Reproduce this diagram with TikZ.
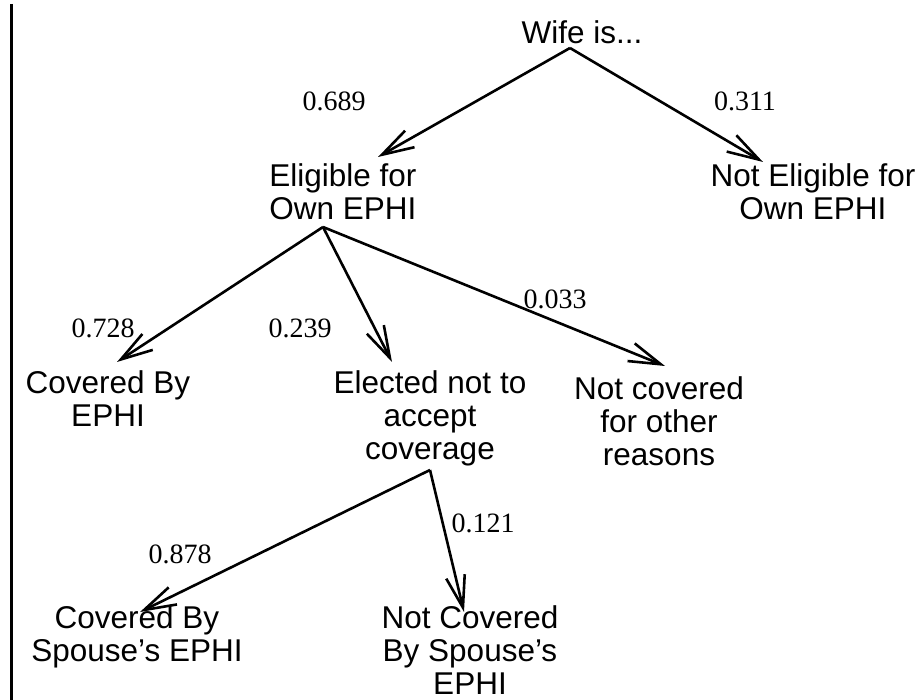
\documentclass[tikz,border=0pt]{standalone}
\usepackage{fontspec}
\setmainfont{Liberation Sans}
\newfontfamily\numfont{Liberation Serif}
\usetikzlibrary{arrows.meta}
\begin{document}
\begin{tikzpicture}[x=1pt,y=-1pt,
  lbl/.style={anchor=north,inner sep=0pt,align=center,font=\fontsize{31.5}{33}\selectfont},
  prob/.style={anchor=center,inner sep=0pt,font=\numfont\fontsize{28}{30}\selectfont},
  branch/.style={line width=2.6pt,-{Straight Barb[length=32pt,width=19pt,line width=2.6pt]}}]
\useasboundingbox (0,0) rectangle (919,700);
\draw[line width=3pt] (11,4) -- (11,700);
% nodes
\node[lbl] (wife) at (582,20) {Wife is...};
\node[lbl] (elig) at (343,163) {Eligible for\\Own EPHI};
\node[lbl] (nelig) at (813,163) {Not Eligible for\\Own EPHI};
\node[lbl] (cov) at (108,370) {Covered By\\EPHI};
\node[lbl] (elect) at (430,370) {Elected not to\\accept\\coverage};
\node[lbl] (notcov) at (659,376) {Not covered\\for other\\reasons};
\node[lbl] (sp) at (137,605) {Covered By\\Spouse's EPHI};
\node[lbl] (nsp) at (470,605) {Not Covered\\By Spouse's\\EPHI};
% apex coordinates and tips
\coordinate (wifeA) at (570,48);
\coordinate (eligA) at (323,227);
\coordinate (electA) at (430,470);
\coordinate (eligT) at (378,157);
\coordinate (neligT) at (763,162);
\coordinate (covT) at (117,362);
\coordinate (electT) at (392,362);
\coordinate (notcovT) at (665,366);
\coordinate (spT) at (140,612);
\coordinate (nspT) at (464,612);
% branches
\draw[branch] (wifeA) -- (eligT);
\draw[branch] (wifeA) -- (neligT);
\draw[branch] (eligA) -- (covT);
\draw[branch] (eligA) -- (electT);
\draw[branch] (eligA) -- (notcovT);
\draw[branch] (electA) -- (spT);
\draw[branch] (electA) -- (nspT);
% probabilities
\node[prob] (p1) at (334,101) {0.689};
\node[prob] (p2) at (745,101) {0.311};
\node[prob] (p3) at (103,328) {0.728};
\node[prob] (p4) at (300,328) {0.239};
\node[prob] (p5) at (555,299) {0.033};
\node[prob] (p6) at (180,554) {0.878};
\node[prob] (p7) at (483,523) {0.121};
\end{tikzpicture}
\end{document}
